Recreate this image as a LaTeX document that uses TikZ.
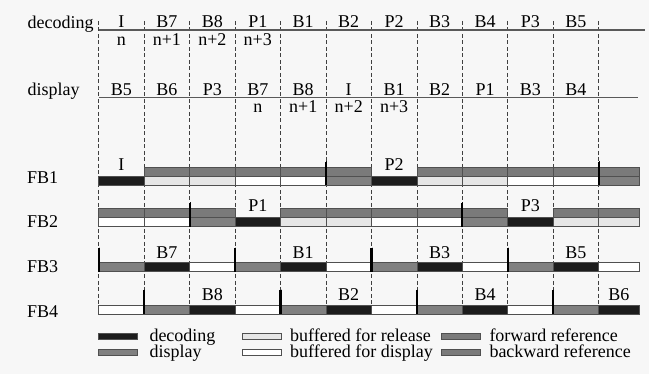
\documentclass[tikz,border=0pt]{standalone}
\usepackage{fontspec}
\setmainfont{Liberation Serif}
\definecolor{bgC}{HTML}{F7F7F7}
\definecolor{decC}{HTML}{1C1C1C}
\definecolor{dispC}{HTML}{808080}
\definecolor{relC}{HTML}{E6E6E6}
\definecolor{refC}{HTML}{7A7A7A}
\definecolor{edgeC}{HTML}{505050}
\newcommand\slotbar[4]{\path[#4] ({98.7+45.45*#1},#2) rectangle ({min(98.7+45.45*(#1+1),639)},#3);}
\begin{document}
\begin{tikzpicture}[x=1pt,y=-1pt,
  font=\fontsize{18}{20}\selectfont,
  lab/.style={anchor=base, inner sep=0pt},
  labw/.style={anchor=base west, inner sep=0pt},
  leg/.style={labw, text height=9pt, text depth=2pt},
  bar/.style={draw=edgeC, line width=0.7pt},
  decB/.style={bar, fill=decC},
  dispB/.style={bar, fill=dispC},
  relB/.style={bar, fill=relC},
  bufB/.style={bar, fill=white},
  refB/.style={bar, fill=refC},
  grid/.style={draw=black!75, line width=0.7pt, dash pattern=on 4pt off 2.5pt},
  axis/.style={draw=black!65, line width=1.1pt},
  markB/.style={draw=black, line width=2.2pt}]
\fill[bgC] (0,0) rectangle (649,374);
\useasboundingbox (0,0) rectangle (649,374);

% vertical dashed lines
\foreach \i in {0,...,11}
  \draw[grid] ({98.7+45.45*\i},21) -- ({98.7+45.45*\i},314);

% decoding row
\node[labw] (declab) at (27.5,28.5) {decoding};
\coordinate (decL) at (98.7,30);
\coordinate (decR) at (645,30);
\draw[axis] (decL) -- (decR);
\foreach \t [count=\i from 0] in {I,B7,B8,P1,B1,B2,P2,B3,B4,P3,B5}
  \node[lab, name=dec\i] at ({98.7+45.45*(\i+0.5)},28) {\t};
\foreach \t [count=\i from 0] in {n,n+1,n+2,n+3}
  \node[lab, name=decn\i] at ({98.7+45.45*(\i+0.5)},46) {\t};

% display row
\node[labw] (displab) at (27.5,95.5) {display};
\coordinate (dispL) at (98.7,97.7);
\coordinate (dispR) at (638,97.7);
\draw[axis] (dispL) -- (dispR);
\foreach \t [count=\i from 0] in {B5,B6,P3,B7,B8,I,B1,B2,P1,B3,B4}
  \node[lab, name=disp\i] at ({98.7+45.45*(\i+0.5)},95.5) {\t};
\foreach \t [count=\i from 3] in {n,n+1,n+2,n+3}
  \node[lab, name=dispn\i] at ({98.7+45.45*(\i+0.5)},112.5) {\t};

% frame buffer labels
\node[labw] (fb1) at (27,183.5) {FB1};
\node[labw] (fb2) at (27,227.5) {FB2};
\node[labw] (fb3) at (27,273) {FB3};
\node[labw] (fb4) at (27,318) {FB4};

% FB1
\foreach \s in {1,2,3,4,5,7,8,9,10,11} \slotbar{\s}{167}{176}{refB}
\foreach \s/\st in {0/decB,1/relB,2/relB,3/bufB,4/bufB,5/dispB,6/decB,7/relB,8/relB,9/bufB,10/bufB,11/dispB}
  \slotbar{\s}{176}{185}{\st}
\foreach \l in {5,11} \draw[markB] ({98.7+45.45*\l},162) -- ({98.7+45.45*\l},185);
\node[lab] (fb1I) at ({98.7+45.45*0.5},170.5) {I};
\node[lab] (fb1P2) at ({98.7+45.45*6.5},170.5) {P2};

% FB2
\foreach \s in {0,1,2,4,5,6,7,8,10,11} \slotbar{\s}{208.3}{217.3}{refB}
\foreach \s/\st in {0/bufB,1/bufB,2/dispB,3/decB,4/relB,5/relB,6/bufB,7/bufB,8/dispB,9/decB,10/relB,11/relB}
  \slotbar{\s}{217.3}{226.7}{\st}
\foreach \l in {2,8} \draw[markB] ({98.7+45.45*\l},203) -- ({98.7+45.45*\l},226.7);
\node[lab] (fb2P1) at ({98.7+45.45*3.5},212) {P1};
\node[lab] (fb2P3) at ({98.7+45.45*9.5},212) {P3};

% FB3
\foreach \s/\st in {0/dispB,1/decB,2/bufB,3/dispB,4/decB,5/bufB,6/dispB,7/decB,8/bufB,9/dispB,10/decB,11/bufB}
  \slotbar{\s}{262.7}{271.7}{\st}
\foreach \l in {0,3,6,9} \draw[markB] ({98.7+45.45*\l},248) -- ({98.7+45.45*\l},271.7);
\foreach \t/\s in {B7/1,B1/4,B3/7,B5/10}
  \node[lab, name=fb3\t] at ({98.7+45.45*(\s+0.5)},259) {\t};

% FB4
\foreach \s/\st in {0/bufB,1/dispB,2/decB,3/bufB,4/dispB,5/decB,6/bufB,7/dispB,8/decB,9/bufB,10/dispB,11/decB}
  \slotbar{\s}{305}{314}{\st}
\foreach \l in {1,4,7,10} \draw[markB] ({98.7+45.45*\l},290) -- ({98.7+45.45*\l},314);
\foreach \t/\s in {B8/2,B2/5,B4/8}
  \node[lab, name=fb4\t] at ({98.7+45.45*(\s+0.5)},300.5) {\t};
\node[lab] (fb4B6) at (618.8,300.5) {B6};

% legend
\path[decB]  (98.3,333.3) rectangle (137.7,339.3);
\node[leg] (lg1) at (149.3,341.5) {decoding};
\path[dispB] (98.3,349) rectangle (137.7,355);
\node[leg] (lg2) at (149.3,357.5) {display};
\path[relB]  (242.7,333.3) rectangle (281.7,339.3);
\node[leg] (lg3) at (290,341.5) {buffered for release};
\path[bufB]  (242.7,349) rectangle (281.7,355);
\node[leg] (lg4) at (290,357.5) {buffered for display};
\path[refB]  (441,333.3) rectangle (480,339.3);
\node[leg] (lg5) at (489.3,341.5) {forward reference};
\path[refB]  (441,349) rectangle (480,355);
\node[leg] (lg6) at (489.3,357.5) {backward reference};
\end{tikzpicture}
\end{document}
